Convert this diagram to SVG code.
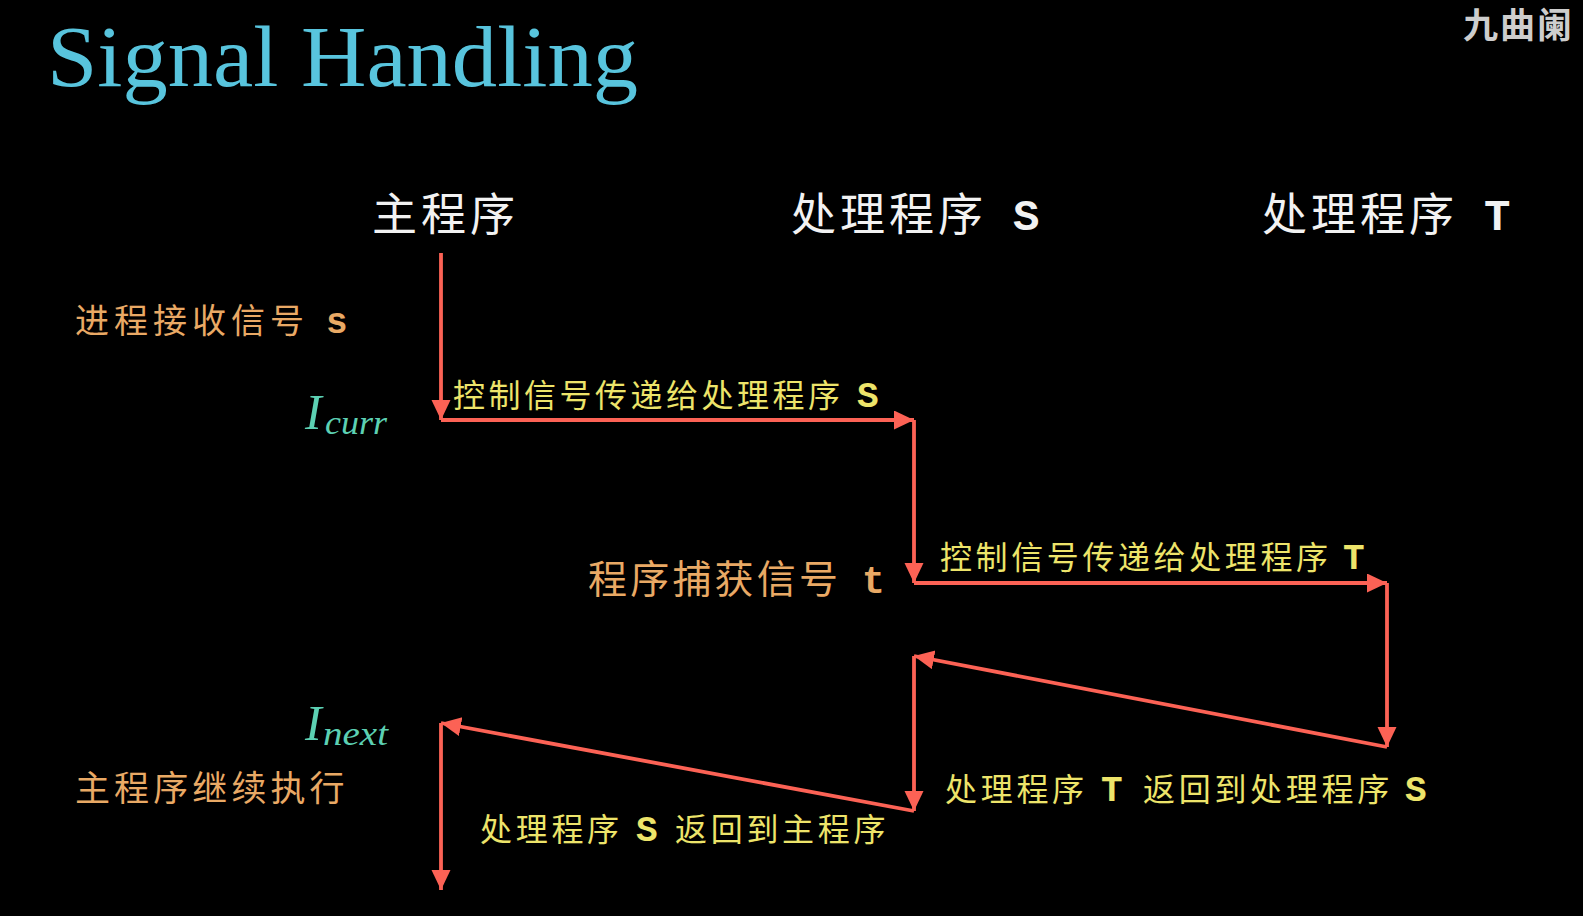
<svg xmlns="http://www.w3.org/2000/svg" width="1583" height="916" viewBox="0 0 1583 916">
<style>
.title{font-family:"Liberation Serif",serif;font-size:87px;fill:#58C4DD}
.wm{font-family:"Noto Sans CJK SC",sans-serif;font-weight:bold;font-size:35px;fill:#CDCDCD;letter-spacing:2px}
.hdr{font-family:"Noto Sans CJK SC",sans-serif;font-size:45px;fill:#F2F2F2;letter-spacing:4px}
.hl{font-family:"Liberation Mono",monospace;font-weight:bold;font-size:44px;fill:#F2F2F2}
.cj{font-family:"Noto Sans CJK SC",sans-serif}
.lat{font-family:"Liberation Mono",monospace;font-weight:bold}
.yl{fill:#EDE46A;font-size:32px}
.or{fill:#E9A965}
.math{font-family:"Liberation Serif",serif;font-style:italic;fill:#5CD0B3}
.conn{stroke:#FC6255;stroke-width:3.8;fill:none;marker-end:url(#ah)}
</style>
<defs>
<marker id="ah" markerUnits="userSpaceOnUse" markerWidth="22" markerHeight="20" refX="20" refY="9.5" orient="auto">
<path d="M0,0 L20,9.5 L0,19 Z" fill="#FC6255"/>
</marker>
</defs>
<rect width="1583" height="916" fill="#000"/>
<g id="title"><text class="title" x="47" y="86" textLength="591" lengthAdjust="spacingAndGlyphs">Signal Handling</text></g>
<g id="watermark"><text class="wm" x="1463" y="38">九曲阑</text></g>

<g id="hdr-main"><text class="hdr" x="372" y="231">主程序</text></g>
<g id="hdr-s"><text x="791" y="231"><tspan class="hdr">处理程序</tspan><tspan class="hl" x="1013" y="230">S</tspan></text></g>
<g id="hdr-t"><text x="1262" y="231"><tspan class="hdr">处理程序</tspan><tspan class="hl" x="1484" y="230">T</tspan></text></g>

<g id="lbl-recv"><text x="75" y="333" class="or"><tspan class="cj" font-size="34" letter-spacing="5">进程接收信号</tspan><tspan class="lat" font-size="36" x="326">s</tspan></text></g>
<g id="lbl-icurr"><text class="math" x="305" y="429" font-size="50">I</text><text class="math" x="325" y="434" font-size="33" textLength="62" lengthAdjust="spacingAndGlyphs">curr</text></g>
<g id="lbl-ctrl-s"><text x="453" y="407" class="yl"><tspan class="cj" letter-spacing="3.5">控制信号传递给处理程序</tspan><tspan class="lat" font-size="36" x="857">S</tspan></text></g>
<g id="lbl-catch"><text x="588" y="593" class="or"><tspan class="cj" font-size="39" letter-spacing="3.2">程序捕获信号</tspan><tspan class="lat" font-size="38" x="862">t</tspan></text></g>
<g id="lbl-ctrl-t"><text x="940" y="569" class="yl"><tspan class="cj" letter-spacing="3.6">控制信号传递给处理程序</tspan><tspan class="lat" font-size="36" x="1343">T</tspan></text></g>
<g id="lbl-inext"><text class="math" x="305" y="740" font-size="50">I</text><text class="math" x="323" y="745" font-size="33" textLength="65" lengthAdjust="spacingAndGlyphs">next</text></g>
<g id="lbl-continue"><text x="75" y="801" class="or cj" font-size="35" letter-spacing="4.1">主程序继续执行</text></g>
<g id="lbl-ret-t"><text y="801" class="yl"><tspan class="cj" x="945" letter-spacing="3.7">处理程序</tspan><tspan class="lat" font-size="36" x="1101">T</tspan><tspan class="cj" x="1143" letter-spacing="3.7">返回到处理程序</tspan><tspan class="lat" font-size="36" x="1405">S</tspan></text></g>
<g id="lbl-ret-s"><text y="841" class="yl"><tspan class="cj" x="480" letter-spacing="3.7">处理程序</tspan><tspan class="lat" font-size="36" x="636">S</tspan><tspan class="cj" x="675" letter-spacing="3.7">返回到主程序</tspan></text></g>

<g id="connectors">
<path class="conn" d="M441,253 L441,420"/>
<path class="conn" d="M441,420 L914,420"/>
<path class="conn" d="M914,420 L914,583"/>
<path class="conn" d="M914,583 L1387,583"/>
<path class="conn" d="M1387,583 L1387,747"/>
<path class="conn" d="M1387,747 L914,656"/>
<path class="conn" d="M914,656 L914,811"/>
<path class="conn" d="M914,811 L441,723"/>
<path class="conn" d="M441,723 L441,890"/>
</g>
</svg>
